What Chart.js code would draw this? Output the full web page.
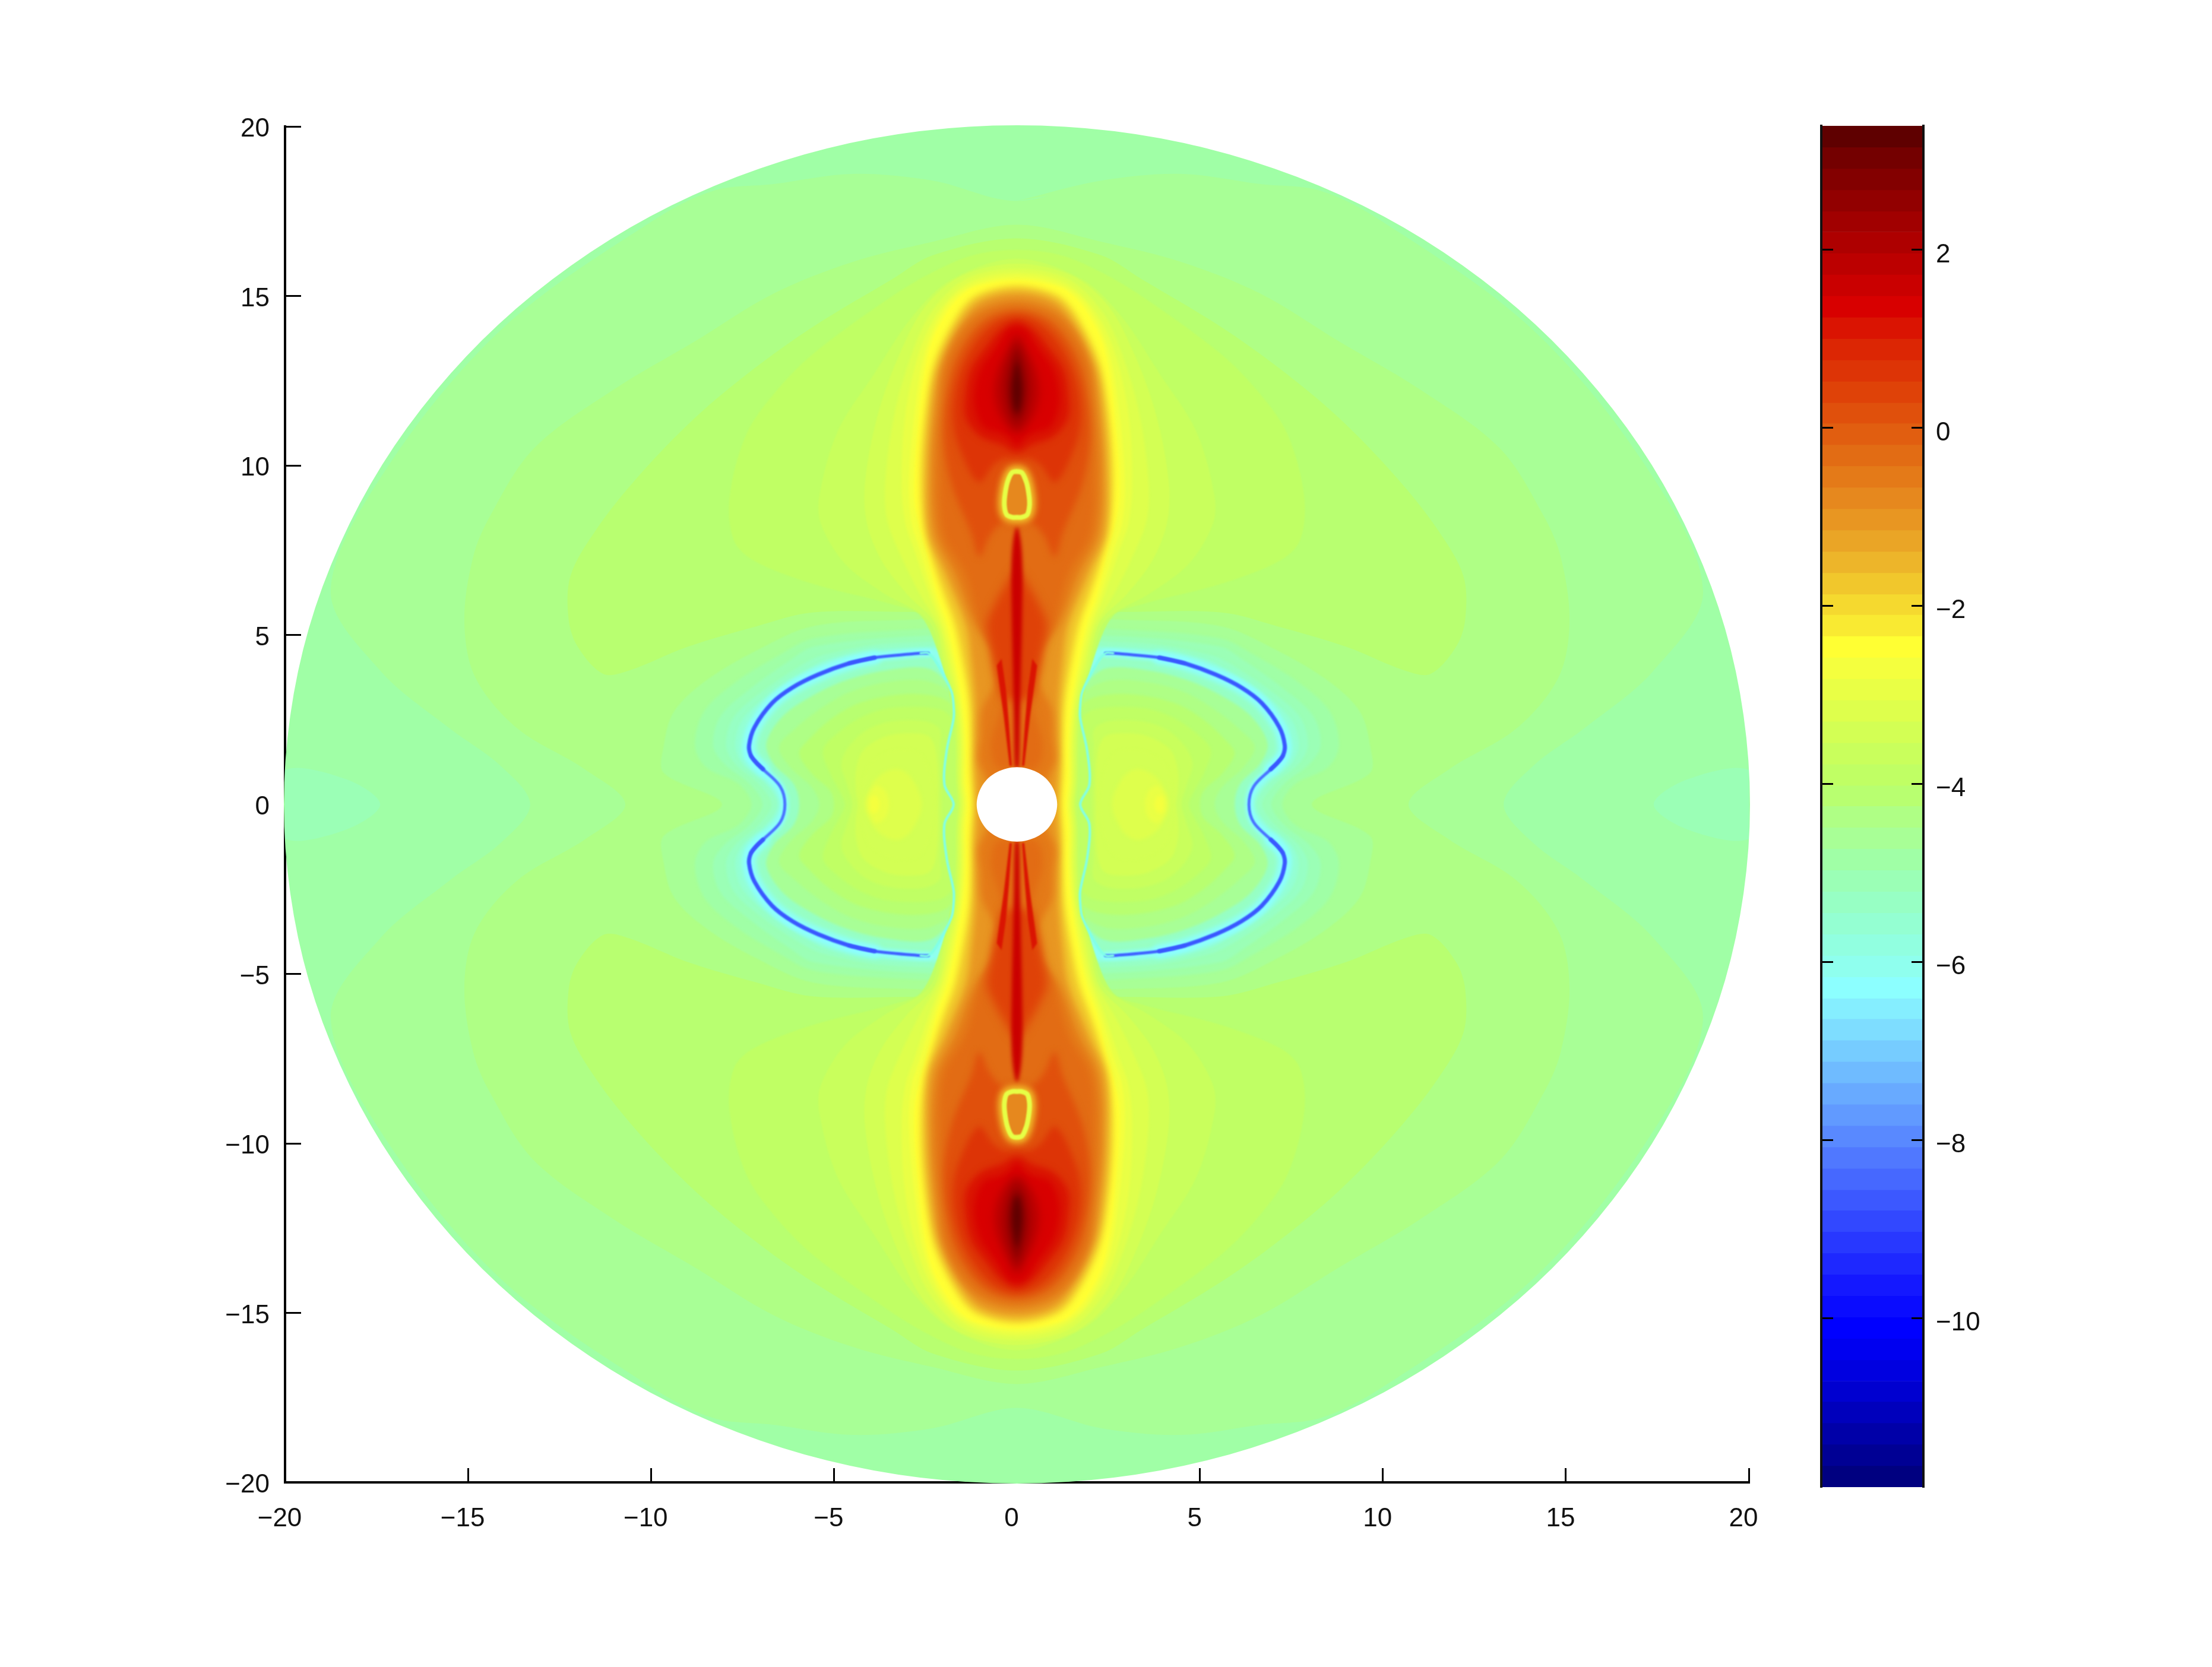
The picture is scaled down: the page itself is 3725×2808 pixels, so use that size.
<!DOCTYPE html>
<html>
<head>
<meta charset="utf-8">
<title>Field map</title>
<script src="https://cdn.jsdelivr.net/npm/chart.js@4/dist/chart.umd.js"></script>
<style>
  html, body { margin: 0; padding: 0; background: #fff; }
  canvas { position: absolute; left: 0; top: 0; }
</style>
</head>
<body>
<canvas id="field" width="3725" height="2808"></canvas>
<canvas id="bar" width="3725" height="2808"></canvas>
<script>
// colour bar: 64 rows, top to bottom
const barColors = [
  '#5f0000','#740000','#830000','#920000','#a10000','#ae0000','#bc0000','#ca0000',
  '#d80000','#da1402','#dc2604','#dd3406','#df4208','#e0500c','#e15e10','#e26c14',
  '#e47a18','#e6881e','#e89622','#eaa526','#edb52a','#f1c72c','#f5d92f','#f9ea32',
  '#ffff33','#f4ff3e','#e9ff45','#deff4c','#d3ff54','#c9ff5c','#c0ff64','#b8ff70',
  '#afff85','#a8ff96','#a0ffa6','#9bffb6','#97ffc4','#94ffd2','#91ffe0','#8fffee',
  '#8cffff','#85eeff','#7eddff','#76ccff','#6fbbff','#68aaff','#619aff','#5989ff',
  '#5078ff','#4668ff','#3c58ff','#3248ff','#2838ff','#1e28ff','#1418ff','#0a0cff',
  '#0000ff','#0000f0','#0000e0','#0000d0','#0000bc','#0000a8','#000094','#000080'
];
const barEdges = [
  3.39,3.15,2.91,2.67,2.43,2.20,1.96,1.72,1.48,1.24,
  1.00,0.76,0.52,0.28,0.05,-0.19,-0.43,-0.67,-0.91,-1.15,
  -1.39,-1.63,-1.87,-2.10,-2.34,-2.58,-2.82,-3.06,-3.30,-3.54,
  -3.78,-4.02,-4.25,-4.49,-4.73,-4.97,-5.21,-5.45,-5.69,-5.93,
  -6.17,-6.41,-6.64,-6.88,-7.12,-7.36,-7.60,-7.84,-8.08,-8.32,
  -8.56,-8.79,-9.03,-9.27,-9.51,-9.75,-9.99,-10.23,-10.47,-10.71,
  -10.94,-11.18,-11.42,-11.66,-11.90
];

// contours, upper right quadrant only (field is mirrored)
const disc = [[0,20],[5.18,19.32],[10,17.32],[14.14,14.14],[17.32,10],[19.32,5.18],[20,0]];
const edgeWedge = [[17.4,0],[18.3,.73],[19.97,1.03],[20,0]];
const band33 = [[0,17.8],[2.3,18.4],[4.5,18.6],[6.65,18.3],[8.3,18.1],[9.98,17.2],[14.05,14.05],[17.2,9.95],[18.75,6.3],[17.4,3.95],[15.5,2.24],[14.1,1.13],[13.3,0]];
const band32 = [[0,17.1],[2.3,16.6],[4.5,16],[6.65,15.07],[8.8,13.66],[11,12.25],[13.2,10.5],[14.4,8.5],[14.86,7.3],[15.1,5.4],[14.8,3.75],[13.65,2.24],[11.8,1.03],[10.7,0]];
const band31 = [[0,16.7],[2.3,16.2],[3.4,15.5],[5.56,14.1],[7.2,12.84],[8.8,11.4],[10.35,9.67],[11.5,8.1],[12.2,6.74],[12.25,5.46],[12,4.65],[11.3,3.85],[10.6,3.95],[9,4.65],[7.1,5.26],[5.6,5.66],[2.85,5.68],[0,5.7]];

const halo33 = [[0,5.5],[2.8,5.45],[5.56,5.26],[7.1,4.55],[8.5,3.65],[9.37,2.74],[9.65,1.74],[9.65,.93],[8.06,0]];
const halo34 = [[0,5.2],[3,5.15],[5.56,4.9],[6.5,4.4],[7.7,3.6],[8.55,2.74],[8.8,1.74],[8.5,1.1],[7.6,.6],[7.25,0]];
const halo35 = [[0,5],[3,4.95],[5.56,4.65],[6.2,4.25],[7.3,3.4],[8.1,2.6],[8.3,1.74],[8,1.2],[7.3,.6],[6.95,0]];
const halo36 = [[0,4.8],[3.5,4.75],[5.3,4.4],[5.9,4.1],[7,3.3],[7.75,2.55],[7.95,1.74],[7.7,1.2],[7.05,.6],[6.7,0]];
const halo37 = [[0,4.65],[3.5,4.62],[5.1,4.3],[5.75,3.95],[6.8,3.2],[7.5,2.5],[7.7,1.74],[7.5,1.2],[6.85,.6],[6.55,0]];
const halo39 = [[0,4.6],[2.4,4.58],[3.9,4.45],[4.7,4.28],[5.55,3.95],[6.25,3.57],[6.8,3.08],[7.3,2.32],[7.45,1.74],[7.38,1.3],[6.95,.8],[6.6,.4],[6.45,0]];

const ringLoop = [[1.73,0],[1.98,.58],[1.92,1.58],[1.73,2.54],[1.73,2.89],[1.79,3.33],[2.19,4.17],[2.42,4.46],[2.63,4.46],[3.89,4.33],[4.59,4.16],[5.43,3.83],[6.13,3.45],[6.69,2.99],[7.17,2.28],[7.32,1.74],[7.27,1.44],[7.13,1.24],[6.94,1.04],[6.47,.53],[6.34,0]];
const ringThin = [[2.63,4.46],[2.42,4.46],[2.19,4.17],[1.79,3.33],[1.73,2.89],[1.73,2.54],[1.92,1.58],[1.98,.58],[1.73,0]];
const ringFine = [[2.42,4.46],[2.63,4.46],[3.89,4.33],[4.59,4.16]];
const ringBlue = [[3.89,4.33],[4.59,4.16],[5.43,3.83],[6.13,3.45],[6.69,2.99],[7.17,2.28],[7.32,1.74],[7.27,1.44],[7.13,1.24],[6.94,1.04]];
const ringNeck = [[7.27,1.44],[7.13,1.24],[6.94,1.04],[6.47,.53],[6.34,0]];

const inner33 = [[1.6,0],[1.6,1.6],[1.6,2.6],[1.8,3.4],[2.4,4],[3.6,3.95],[4.7,3.65],[5.6,3.2],[6.4,2.6],[6.85,1.8],[6.65,1.2],[6.1,.6],[5.95,0]];
const inner32 = [[1.6,0],[1.6,1.6],[1.6,2.6],[1.85,3.3],[2.5,3.65],[3.6,3.6],[4.6,3.3],[5.4,2.8],[6.1,2.2],[6.5,1.7],[6.2,1.1],[5.6,.5],[5.4,0]];
const inner31 = [[1.6,0],[1.6,1.6],[1.6,2.5],[1.9,3.05],[2.6,3.25],[3.5,3.2],[4.4,2.95],[5.1,2.5],[5.7,1.9],[5.95,1.5],[5.6,.9],[5.1,.4],[5,0]];
const inner30 = [[1.6,0],[1.6,1.6],[1.7,2.4],[2.1,2.8],[3.4,2.85],[4.2,2.6],[4.9,2.1],[5.3,1.6],[5.1,.9],[4.8,.3],[4.7,0]];
const inner29 = [[2.05,0],[2.1,1.6],[2.1,2.2],[2.5,2.45],[3.4,2.45],[4.1,2.2],[4.6,1.7],[4.8,1.2],[4.65,.6],[4.5,0]];
const inner28 = [[2.15,0],[2.2,1.5],[2.4,2],[3,2.1],[3.6,2],[4.2,1.6],[4.4,1],[4.4,.4],[4.35,0]];
const inner27 = [[2.25,0],[2.45,1.2],[2.8,1.6],[3.4,1.6],[4,1.25],[4.2,.7],[4.25,0]];
const inner26 = [[2.6,0],[2.9,.8],[3.3,1.05],[3.8,.8],[4.1,.3],[4.15,0]];
const inner25 = [[3.5,0],[3.6,.4],[3.85,.55],[4.05,.25],[4.1,0]];
const inner24 = [[3.75,0],[3.85,.25],[4,.2],[4.02,0]];

const lobe30 = [[0,16.36],[1.2,16.2],[2.3,15.7],[3.4,15],[5.56,13.3],[6.65,12.1],[7.4,10.9],[7.85,9.08],[7.74,7.8],[7.2,7.2],[5.56,6.5],[3.4,5.9],[2.63,5.56],[2.1,4.3],[1.8,3],[1.72,1.84],[1.72,.67],[1.67,0]];
const lobe29 = [[0,16.1],[1.76,15.5],[2.85,14.4],[3.9,12.7],[4.9,11],[5.4,9.08],[5.35,8.26],[4.7,7.1],[3.7,6.27],[2.4,5.4],[2.05,4.2],[1.75,3],[1.68,1.84],[1.67,.67],[1.62,0]];
const lobe28 = [[0,15.95],[1.5,15.6],[2.5,14.7],[3.2,13.3],[3.8,11.5],[4.15,9.5],[4.1,8.3],[3.7,7.2],[3,6.2],[2.25,5.35],[1.98,4.1],[1.7,3],[1.63,1.84],[1.62,.67],[1.57,0]];
const lobe27 = [[0,15.8],[1.4,15.5],[2.35,14.5],[2.9,13.2],[3.35,11.5],[3.6,9.5],[3.55,8.4],[3.2,7.4],[2.65,6.2],[2.12,5.2],[1.9,4.1],[1.65,3],[1.57,1.84],[1.57,.67],[1.52,0]];
const lobe26 = [[0,15.68],[1.3,15.4],[2.1,14.6],[2.65,13.4],[3.05,11.5],[3.15,9.5],[3.05,8.3],[2.8,7.5],[2.4,6.2],[2.05,5.2],[1.82,4.1],[1.6,3],[1.52,1.84],[1.52,.67],[1.47,0]];
const lobe25 = [[0,15.57],[1.2,15.33],[1.9,14.75],[2.5,13.4],[2.8,11.5],[2.95,9.5],[2.88,8.3],[2.65,7.5],[2.3,6.2],[1.97,5.2],[1.74,4.1],[1.55,3],[1.47,1.84],[1.47,.67],[1.42,0]];
const lobe24 = [[0,15.47],[1.14,15.27],[1.68,14.86],[2.12,14.16],[2.39,13.46],[2.6,12.29],[2.71,11.12],[2.8,9.95],[2.8,8.9],[2.65,8.1],[2.47,7.4],[2.2,6.2],[1.9,5.28],[1.68,4.17],[1.49,3],[1.41,1.84],[1.41,.67],[1.36,0]];
const lobe21 = [[0,15.3],[1.05,15.05],[1.55,14.55],[2.2,13.2],[2.45,12],[2.62,10],[2.55,8.2],[2.25,7],[2,6.2],[1.7,5.3],[1.45,4],[1.3,3],[1.25,2],[1.25,1],[1.2,0]];
const lobe18 = [[0,15.1],[1,14.85],[1.55,14.2],[2.1,13],[2.3,12],[2.45,10],[2.4,8],[1.95,6.8],[1.4,5.3],[1.25,4.2],[1.15,3],[1.15,2],[1.15,1.2],[1.1,0]];
const lobe16 = [[0,14.85],[.95,14.6],[1.55,14],[2,13],[2.15,12],[2.3,10],[2.2,8],[1.68,6.8],[1.14,5.3],[.72,4.6],[.62,4.1],[.6,3.6],[.95,2.8],[1,2],[1.05,1.3],[.85,.8],[.6,0]];
const core15 = [[0,14.65],[.9,14.4],[1.45,13.8],[1.85,13],[2,12],[2.1,10],[2,8],[1.4,6.8],[1,5.3],[.55,4.4],[.42,3.6],[.45,2.8],[.7,1.8],[.55,1.1],[0,1.05]];
const core13 = [[0,14.55],[.8,14.3],[1.4,13.6],[1.8,12.6],[2,11],[1.8,9.5],[1.25,8],[1.03,7.3],[.75,7.9],[.4,8.3],[0,8.2]];
const core11 = [[0,14.4],[.6,14.2],[1.15,13.6],[1.6,12.6],[1.75,11.5],[1.6,10.6],[1.05,9.5],[.65,10],[.35,10.2],[0,10.2]];
const core9 = [[0,14.25],[.45,14],[.85,13.5],[1.25,12.87],[1.4,12.2],[1.4,11.4],[1,10.85],[.4,10.6],[0,10.4]];
const core8 = [[0,14.1],[.25,14],[.6,13.45],[.98,12.87],[1.14,12.29],[1.14,11.7],[.9,11.12],[.4,10.95],[.2,10.8],[0,10.55]];
const core6 = [[0,13.85],[.25,13.45],[.5,12.87],[.62,12.29],[.55,11.7],[.3,11.2],[0,10.95]];
const core4 = [[0,13.65],[.15,13.3],[.3,12.87],[.37,12.29],[.3,11.7],[.15,11.3],[0,11.1]];
const core2 = [[0,13.4],[.1,13],[.18,12.6],[.2,12.2],[.15,11.7],[0,11.4]];
const core0 = [[0,13.05],[.07,12.7],[.12,12.3],[.1,11.9],[0,11.55]];

const diamond = [[0,6.9],[.35,6.4],[.7,5.7],[.82,5.3],[.72,4.6],[.62,4],[.5,3.5],[.35,3.1],[0,3.1]];
const fan = [[.14,1.14],[.2,1.14],[.36,2.6],[.55,4.1],[.42,4.3],[.3,3.4],[.22,2.4],[.14,1.14]];
const spike = [[0,8.2],[.1,7.8],[.15,7],[.14,5.5],[.11,4],[.08,2.5],[.05,1.1],[0,1.1]];
const oval = [[0,9.82],[.14,9.78],[.26,9.5],[.33,9.1],[.34,8.8],[.28,8.55],[.12,8.47],[0,8.47]];
const hole = [[0,1.1],[.28,1.06],[.55,.95],[.78,.78],[.95,.55],[1.06,.28],[1.1,0]];

const xTicks = [-20,-15,-10,-5,0,5,10,15,20];
const yTicks = [-20,-15,-10,-5,0,5,10,15,20];
const barTicks = [-10,-8,-6,-4,-2,0,2];

const flipX = p => p.map(([x, y]) => [-x, y]);
const flipY = p => p.map(([x, y]) => [x, -y]);
const same = (a, b) => Math.abs(a[0] - b[0]) < 1e-9 && Math.abs(a[1] - b[1]) < 1e-9;
// mirrored lists meet on the axis, drop the doubled point there or the curve kinks
const join = (a, b) => same(a[a.length - 1], b[0]) ? a.concat(b.slice(1)) : a.concat(b);
const loopX = q => join(q, flipX(q).reverse());
const loopY = q => join(q, flipY(q).reverse());
// run past the start so the spline has no loose ends at the seam
const closed = p => {
  const l = same(p[0], p[p.length - 1]) ? p.slice(0, -1) : p;
  return l.concat([l[0], l[1], l[2]]);
};

const symmetry = {
  full: q => [loopX(loopY(q))],
  lobe: q => { const l = loopX(q); return [l, flipY(l)]; },
  side: q => { const l = loopY(q); return [l, flipX(l)]; },
  corner: q => [q, flipX(q), flipY(q), flipX(flipY(q))],
};

// later entries paint over earlier ones
const layers = [];
function band(q, sym, level, blur, extra) {
  const straight = extra && extra.tension === 0;
  symmetry[sym](q).forEach(pts => layers.push(Object.assign({
    data: (straight ? pts : closed(pts)).map(([x, y]) => ({x, y})),
    showLine: true, fill: 'shape', tension: 0.33, borderWidth: 0,
    backgroundColor: level === null ? '#ffffff' : barColors[level],
    blur: blur || 0, clip: false,
  }, extra || {})));
}
function stroke(q, sym, color, width, blur, shut) {
  symmetry[sym](q).forEach(pts => layers.push({
    data: (shut ? closed(pts) : pts).map(([x, y]) => ({x, y})),
    showLine: true, fill: false, tension: 0.33, borderCapStyle: 'round',
    borderColor: color, borderWidth: width, blur: blur || 0, clip: false,
  }));
}

band(disc, 'full', 34, 0, {borderWidth: 4, borderColor: barColors[34]});
band(edgeWedge, 'side', 35);
band(band33, 'full', 33);
band(band32, 'full', 32);
band(band31, 'lobe', 31);
band(halo33, 'full', 33, 1);
band(halo34, 'full', 34, 2);
band(halo35, 'full', 35, 2);
band(halo36, 'full', 36, 2);
band(halo37, 'full', 37, 2);
band(halo39, 'full', 39, 3);
band(ringLoop, 'side', 36, 2);
band(inner33, 'side', 33, 2);
band(inner32, 'side', 32, 2);
band(inner31, 'side', 31, 2);
band(inner30, 'side', 30, 2);
band(inner29, 'side', 29, 2);
band(inner28, 'side', 28, 2);
band(inner27, 'side', 28, 2);
band(inner26, 'side', 27, 3);
band(inner25, 'side', 26, 3);
band(inner24, 'side', 25, 3);
band(lobe30, 'full', 30, 1);
band(lobe29, 'full', 29, 1);
band(lobe28, 'full', 28, 1);
band(lobe27, 'full', 27, 2);
band(lobe26, 'full', 26, 2);
band(lobe25, 'full', 25, 2);
band(lobe24, 'full', 24, 2);
band(lobe21, 'full', 21, 6);
band(lobe18, 'full', 18, 6);
band(lobe16, 'full', 16, 6);
band(core15, 'lobe', 15, 6);
band(core13, 'lobe', 13, 6);
band(core11, 'lobe', 11, 6);
band(core9, 'lobe', 9, 6);
band(core8, 'lobe', 8, 6);
band(core6, 'lobe', 6, 7);
band(core4, 'lobe', 4, 7);
band(core2, 'lobe', 2, 6);
band(core0, 'lobe', 0, 5);
band(diamond, 'lobe', 12, 8);
band(fan, 'corner', 9, 1.5, {tension: 0});
band(spike, 'lobe', 7, 3);
stroke(oval, 'lobe', '#f1c72c', 20, 6, true);
band(oval, 'lobe', 17, 2);
stroke(oval, 'lobe', '#e6ff46', 8, 1, true);
stroke(ringBlue, 'corner', '#8cffff', 22, 5);
stroke(ringNeck, 'side', '#8cffff', 12, 3);
stroke(ringFine, 'corner', '#8cffff', 12, 3);
stroke(ringFine, 'corner', '#3f60ff', 5, 1);
stroke(ringNeck, 'side', '#4a72ff', 5, 1);
stroke(ringBlue, 'corner', '#3a58ff', 7, 1);
stroke(ringThin, 'side', '#80ffe8', 4, 1);
band(hole, 'full', null);

// Filler has to run after the blur is set, so it goes back in behind this plugin
const blurPlugin = {
  id: 'bandBlur',
  beforeDatasetDraw(chart, args) {
    const b = chart.data.datasets[args.index].blur;
    if (b) chart.ctx.filter = 'blur(' + b + 'px)';
  },
  afterDatasetDraw(chart) {
    chart.ctx.filter = 'none';
  },
};
const filler = Chart.registry.plugins.get('filler');
Chart.unregister(filler);
Chart.register(blurPlugin, filler);

const labelFont = {family: '"Liberation Sans", sans-serif', size: 44};
const minus = v => String(v).replace('-', '\u2212');

new Chart(document.getElementById('field'), {
  type: 'scatter',
  // first dataset is drawn last
  data: {datasets: layers.slice().reverse()},
  options: {
    responsive: false,
    animation: false,
    layout: {padding: {left: 380, top: 213, right: 780, bottom: 191}},
    elements: {point: {radius: 0}, line: {capBezierPoints: false}},
    plugins: {legend: {display: false}, tooltip: {enabled: false}},
    scales: {
      x: {
        type: 'linear', min: -20, max: 20,
        afterFit: s => { s.height = 120; },
        afterBuildTicks: s => { s.ticks = xTicks.map(value => ({value})); },
        border: {color: '#000', width: 4},
        grid: {drawOnChartArea: false, tickLength: -24, tickWidth: 3, tickColor: '#000'},
        ticks: {color: '#111', font: labelFont, padding: 59, labelOffset: -9, maxRotation: 0, autoSkip: false, callback: minus},
      },
      y: {
        type: 'linear', min: -20, max: 20,
        afterFit: s => { s.width = 100; },
        afterBuildTicks: s => { s.ticks = yTicks.map(value => ({value})); },
        border: {color: '#000', width: 4},
        grid: {drawOnChartArea: false, tickLength: -27, tickWidth: 3, tickColor: '#000'},
        ticks: {color: '#111', font: labelFont, padding: 53, labelOffset: 5, autoSkip: false, callback: minus},
      },
    },
  },
});

new Chart(document.getElementById('bar'), {
  type: 'bar',
  data: {
    labels: ['level'],
    datasets: barColors.map((c, i) => ({
      data: [[barEdges[i + 1], barEdges[i]]],
      backgroundColor: c, borderWidth: 0, grouped: false,
      barPercentage: 1, categoryPercentage: 1,
    })),
  },
  options: {
    responsive: false,
    animation: false,
    layout: {padding: {left: 3067, top: 212, right: 286, bottom: 303}},
    plugins: {legend: {display: false}, tooltip: {enabled: false}},
    scales: {
      x: {display: false},
      y: {
        min: -11.9, max: 3.39, position: 'left',
        afterFit: s => { s.width = 0; },
        afterBuildTicks: s => { s.ticks = barTicks.map(value => ({value})); },
        border: {color: '#111', width: 4, z: 2},
        grid: {drawOnChartArea: false, tickLength: -20, tickWidth: 3, tickColor: '#000', z: 2},
        ticks: {display: false},
      },
      yRight: {
        min: -11.9, max: 3.39, position: 'right',
        afterFit: s => { s.width = 200; },
        afterBuildTicks: s => { s.ticks = barTicks.map(value => ({value})); },
        border: {color: '#111', width: 4, z: 2},
        grid: {drawOnChartArea: false, tickLength: -20, tickWidth: 3, tickColor: '#000', z: 2},
        ticks: {color: '#111', font: labelFont, padding: 41, labelOffset: 9, autoSkip: false, callback: minus},
      },
    },
  },
});
</script>
</body>
</html>
